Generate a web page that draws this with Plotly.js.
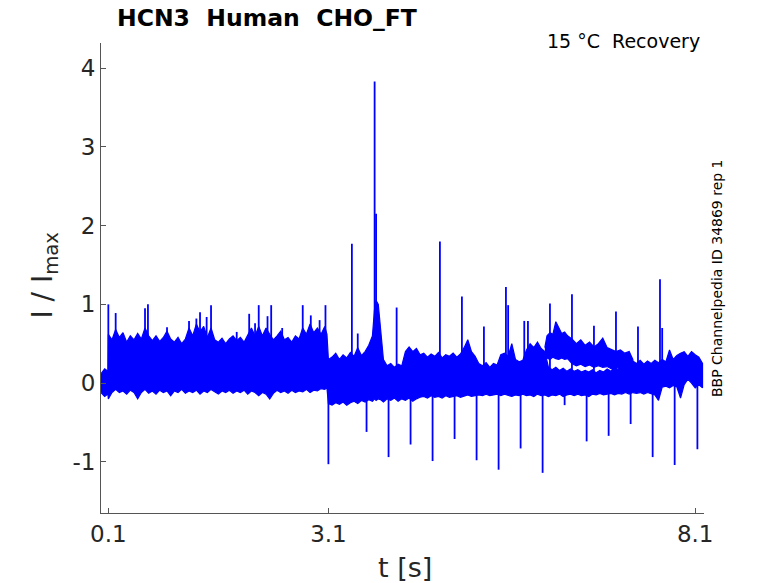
<!DOCTYPE html>
<html><head><meta charset="utf-8">
<script src="https://cdn.plot.ly/plotly-3.0.1.min.js"></script>
<style>html,body{margin:0;padding:0;background:#fff}#g{width:778px;height:583px}</style>
</head><body><div id="g"></div>
<script>
// Envelope of the overlaid sweeps
var bandT  = [0.0,0.05,0.095,
  0.10,0.15,0.20,0.25,0.30,0.35,0.40,0.45,0.50,0.55,0.60,0.65,0.70,0.75,0.80,0.85,0.90,0.95,1.00,1.05,1.10,1.15,1.20,1.25,1.30,1.35,1.40,1.45,1.50,1.55,1.60,1.65,1.70,1.75,1.80,1.85,1.90,1.95,2.00,2.05,2.10,2.15,2.20,2.25,2.30,2.35,2.40,2.45,2.50,2.55,2.60,2.65,2.70,2.75,2.80,2.85,2.90,2.95,3.00,3.05,3.08,
  3.10,3.15,3.20,3.25,3.30,3.35,3.40,3.45,3.50,3.55,3.60,3.65,3.70,3.73,3.75,3.78,3.81,3.85,3.90,3.95,4.00,4.05,4.10,4.15,4.20,4.25,4.30,4.35,4.40,4.45,4.50,4.55,4.60,4.65,4.70,4.75,4.80,4.85,4.90,4.95,5.00,5.05,5.10,5.15,5.20,5.25,5.30,5.35,5.40,5.45,5.50,5.55,5.60,5.65,5.70,5.75,5.80,5.85,5.90,5.95,6.00,6.05,6.10,6.15,6.20,6.25,6.30,6.35,6.40,6.45,6.50,6.55,6.60,6.65,6.70,6.75,6.80,6.85,6.90,6.95,7.00,7.05,7.10,7.15,7.20,7.25,7.30,7.35,7.40,7.45,7.50,7.55,7.60,7.65,7.70,7.75,7.80,7.85,7.90,7.95,8.00,8.05,8.10,8.15,8.20];
var bandHi = [0.12,0.18,0.15,
  0.62,0.55,0.68,0.58,0.64,0.52,0.60,0.55,0.63,0.56,0.70,0.60,0.54,0.60,0.53,0.58,0.66,0.56,0.52,0.58,0.50,0.56,0.70,0.60,0.75,0.65,0.72,0.58,0.70,0.55,0.52,0.57,0.50,0.56,0.60,0.54,0.58,0.52,0.62,0.70,0.60,0.72,0.60,0.70,0.62,0.55,0.60,0.66,0.55,0.58,0.52,0.60,0.56,0.70,0.62,0.75,0.64,0.70,0.62,0.72,0.62,
  0.30,0.33,0.38,0.30,0.36,0.32,0.39,0.34,0.45,0.35,0.40,0.48,0.60,0.95,1.05,1.00,0.65,0.30,0.22,0.25,0.20,0.24,0.22,0.40,0.46,0.40,0.44,0.36,0.38,0.33,0.37,0.34,0.39,0.32,0.36,0.34,0.38,0.33,0.37,0.45,0.55,0.40,0.34,0.25,0.22,0.26,0.20,0.25,0.23,0.36,0.38,0.34,0.50,0.30,0.27,0.29,0.42,0.50,0.45,0.52,0.44,0.40,0.20,0.17,0.20,0.16,0.19,0.15,0.18,0.15,0.17,0.14,0.16,0.14,0.17,0.13,0.16,0.14,0.18,0.15,0.20,0.17,0.22,0.20,0.24,0.28,0.25,0.29,0.24,0.28,0.25,0.29,0.26,0.30,0.27,0.42,0.30,0.35,0.38,0.40,0.34,0.40,0.36,0.33,0.25];
var bandLo = [-0.12,-0.17,-0.14,
  -0.20,-0.12,-0.08,-0.12,-0.10,-0.14,-0.09,-0.12,-0.20,-0.12,-0.08,-0.13,-0.10,-0.14,-0.09,-0.12,-0.10,-0.16,-0.10,-0.12,-0.08,-0.13,-0.10,-0.12,-0.09,-0.14,-0.10,-0.12,-0.08,-0.11,-0.14,-0.10,-0.12,-0.09,-0.13,-0.10,-0.12,-0.09,-0.14,-0.10,-0.12,-0.16,-0.12,-0.14,-0.20,-0.13,-0.09,-0.12,-0.10,-0.13,-0.09,-0.12,-0.10,-0.11,-0.08,-0.12,-0.09,-0.10,-0.07,-0.08,-0.06,
  -0.26,-0.28,-0.25,-0.27,-0.24,-0.28,-0.25,-0.23,-0.26,-0.22,-0.24,-0.21,-0.23,-0.20,-0.22,-0.20,-0.21,-0.24,-0.20,-0.22,-0.19,-0.23,-0.20,-0.22,-0.19,-0.23,-0.20,-0.18,-0.17,-0.19,-0.16,-0.18,-0.17,-0.19,-0.16,-0.18,-0.17,-0.16,-0.18,-0.17,-0.15,-0.17,-0.16,-0.15,-0.16,-0.14,-0.16,-0.15,-0.14,-0.16,-0.14,-0.15,-0.17,-0.15,-0.16,-0.14,-0.16,-0.15,-0.17,-0.14,-0.16,-0.15,-0.17,-0.15,-0.16,-0.14,-0.17,-0.15,-0.14,-0.16,-0.14,-0.16,-0.15,-0.17,-0.14,-0.15,-0.13,-0.15,-0.14,-0.13,-0.15,-0.13,-0.14,-0.12,-0.14,-0.12,-0.13,-0.12,-0.14,-0.12,-0.13,-0.15,-0.22,-0.05,-0.04,-0.06,-0.03,-0.05,-0.19,-0.02,0.05,0.00,-0.06,-0.02,-0.06];

// Elevated group of sweeps around 6-7 s
var elevT  = [6.05,6.08,6.12,6.16,6.20,6.24,6.28,6.32,6.36,6.42,6.48,6.54,6.60,6.66,6.72,6.78,6.84,6.90,6.96,7.02,7.08,7.14,7.20,7.25];
var elevHi = [0.45,0.60,0.64,0.62,0.78,0.70,0.63,0.65,0.60,0.56,0.50,0.55,0.48,0.52,0.46,0.50,0.57,0.45,0.42,0.40,0.42,0.38,0.40,0.30];
var elevLo = [0.30,0.32,0.30,0.33,0.31,0.30,0.32,0.30,0.31,0.25,0.22,0.24,0.21,0.23,0.20,0.22,0.20,0.21,0.18,0.20,0.18,0.18,0.17,0.17];

// Narrow transients
var posSpikeT = [0.1,0.2,0.6,0.64,0.9,1.2,1.3,1.35,1.44,1.5,1.85,2.02,2.1,2.15,2.27,2.32,2.47,2.75,2.86,2.98,3.06,3.42,3.5,3.73,3.75,4.03,4.62,4.92,5.22,5.52,5.55,5.77,5.82,6.12,6.42,6.72,7.02,7.32,7.62,7.65];
var posSpikeV = [1.0,0.89,0.95,1.0,0.71,0.79,0.82,0.9,0.84,0.99,0.65,0.88,0.76,0.99,0.85,0.99,0.7,0.99,0.86,0.8,0.99,1.77,0.63,3.83,2.15,0.96,1.8,1.1,0.72,1.22,0.99,0.79,0.79,1.01,1.13,0.73,0.91,0.72,1.32,0.7];
var negSpikeT = [3.1,3.62,3.92,4.22,4.52,4.82,5.12,5.42,5.72,6.02,6.32,6.62,6.92,7.22,7.52,7.82,8.13];
var negSpikeV = [-1.03,-0.62,-0.94,-0.78,-0.99,-0.71,-0.98,-1.1,-0.83,-1.14,-0.28,-0.74,-0.67,-0.52,-0.94,-1.04,-0.84];

var xTicks = [0.1,3.1,8.1];
var yTicks = [-1,0,1,2,3,4];
var yTickText = ['-1','0','1','2','3','4'];

var BLUE = '#0000ff';
function poly(t, hi, lo){
  return {x: t.concat(t.slice().reverse()), y: hi.concat(lo.slice().reverse())};
}
function spikes(t, v){
  var x=[], y=[];
  for (var i=0;i<t.length;i++){ x.push(t[i],t[i],null); y.push(0.05,v[i],null); }
  return {x:x,y:y};
}
var b = poly(bandT, bandHi, bandLo);
var e = poly(elevT, elevHi, elevLo);
var ps = spikes(posSpikeT, posSpikeV);
var ns = spikes(negSpikeT, negSpikeV);

var traces = [
  {x:b.x, y:b.y, mode:'lines', fill:'toself', fillcolor:BLUE, line:{color:BLUE,width:1.2}, hoverinfo:'skip'},
  {x:e.x, y:e.y, mode:'lines', fill:'toself', fillcolor:BLUE, line:{color:BLUE,width:1.2}, hoverinfo:'skip'},
  {x:ps.x, y:ps.y, mode:'lines', line:{color:BLUE,width:1.8}, hoverinfo:'skip'},
  {x:ns.x, y:ns.y, mode:'lines', line:{color:BLUE,width:1.8}, hoverinfo:'skip'}
];

var F = 'DejaVu Sans, sans-serif';
var layout = {
  width:778, height:583, showlegend:false,
  paper_bgcolor:'#fff', plot_bgcolor:'#fff',
  margin:{l:101, r:74, t:43, b:70},
  font:{family:F, color:'#262626'},
  xaxis:{range:[0,8.22], tickvals:xTicks, ticktext:xTicks.map(String), ticks:'inside', ticklen:5, tickcolor:'#555',
         showline:true, linecolor:'#555', linewidth:1, showgrid:false, zeroline:false, tickfont:{size:23,color:'#262626'}},
  yaxis:{range:[-1.65,4.32], tickvals:yTicks, ticktext:yTickText, ticks:'inside', ticklen:5, tickcolor:'#555',
         showline:true, linecolor:'#555', linewidth:1, showgrid:false, zeroline:false, tickfont:{size:23,color:'#262626'}},
  annotations:[
    {xref:'paper', yref:'paper', x:0.0232, y:1.053, xanchor:'left', yanchor:'middle', showarrow:false,
     text:'<b>HCN3  Human  CHO_FT</b>', font:{family:F, size:23.5, color:'#000'}},
    {xref:'paper', yref:'paper', x:0.9967, y:1.004, xanchor:'right', yanchor:'middle', showarrow:false,
     text:'15 °C  Recovery', font:{family:F, size:19, color:'#000'}},
    {xref:'paper', yref:'paper', x:1.0216, y:0.5, xanchor:'center', yanchor:'middle', showarrow:false, textangle:-90,
     text:'BBP Channelpedia ID 34869 rep 1', font:{family:F, size:14, color:'#000'}},
    {xref:'paper', yref:'paper', x:0.504, y:-0.115, xanchor:'center', yanchor:'middle', showarrow:false,
     text:'t [s]', font:{family:F, size:27, color:'#262626'}},
    {xref:'paper', yref:'paper', x:-0.093, y:0.505, xanchor:'center', yanchor:'middle', showarrow:false, textangle:-90,
     text:'I / I<sub>max</sub>', font:{family:F, size:28, color:'#262626'}}
  ]
};
Plotly.newPlot('g', traces, layout, {staticPlot:true, displayModeBar:false});
</script></body></html>
